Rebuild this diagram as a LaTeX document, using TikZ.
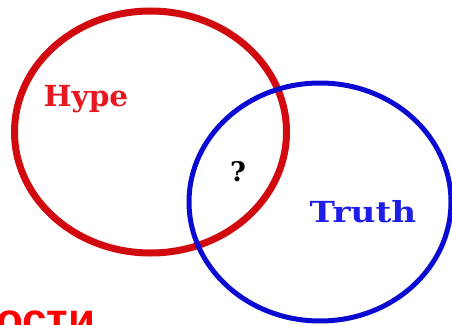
\documentclass[tikz,border=0pt]{standalone}
\usepackage{fontspec}
\setmainfont{DejaVu Serif}
\newfontfamily\cyrfont{Liberation Sans}
\usepackage{tikz}
\usetikzlibrary{positioning}
\usepackage{xcolor}
\definecolor{hypered}{RGB}{208,10,14}
\definecolor{truthblue}{RGB}{10,10,210}
\definecolor{labelred}{RGB}{232,22,30}
\definecolor{labelblue}{RGB}{30,30,230}

\begin{document}
\begin{tikzpicture}[x=1pt,y=-1pt]
        \useasboundingbox (0,0) rectangle (452,324);
        \clip (0,0) rectangle (452,324);
        % the two sets
        \draw[hypered, line width=7pt] (150.5,132) ellipse (136 and 121);
        \draw[truthblue, line width=5pt] (320,202) ellipse (131 and 119);
        % labels
        \node[labelred, font=\bfseries\fontsize{29}{29}\selectfont, xscale=1.02] (hype) at (86,99) {Hype};
        \node[labelblue, font=\bfseries\fontsize{29}{29}\selectfont, xscale=1.18] (truth) at (363,212) {Truth};
        \node[font=\bfseries\fontsize{27}{27}\selectfont] (ask) at (238,172) {?};
        \node[red, font=\cyrfont\bfseries\fontsize{44}{44}\selectfont, anchor=base west, inner sep=0pt] (cut) at (-4,334) {ости};
    \end{tikzpicture}
\end{document}
